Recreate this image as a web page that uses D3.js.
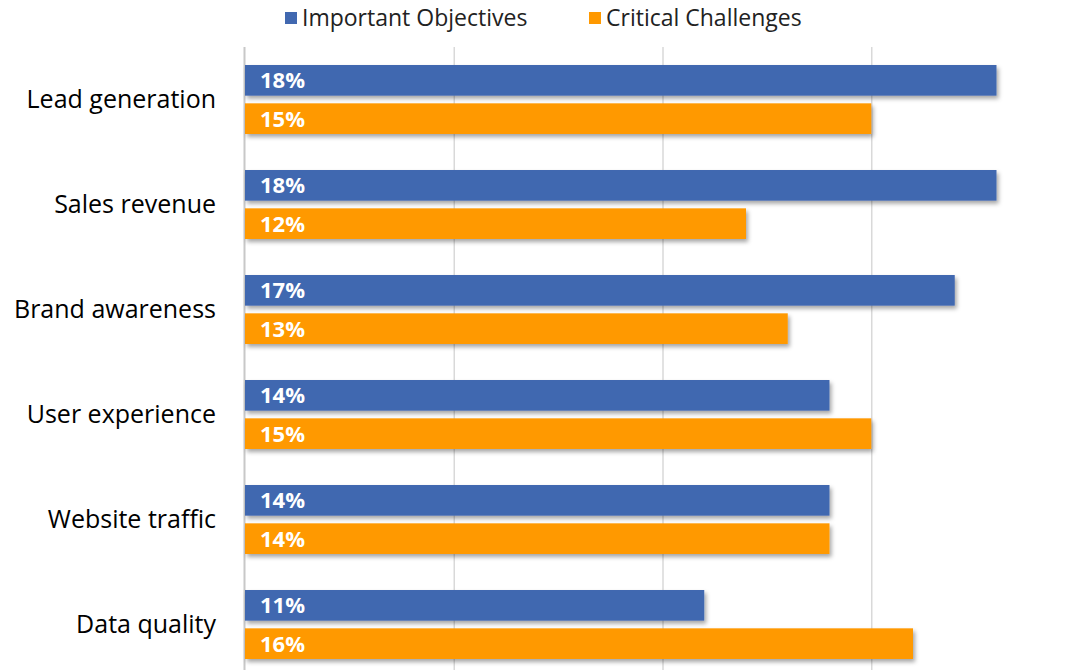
<!DOCTYPE html>
<html>
<head>
<meta charset="utf-8">
<script src="https://cdn.jsdelivr.net/npm/d3@7"></script>
<style>
  body { margin: 0; background: #fff; }
  svg { display: block; font-family: "Open Sans", Lato, sans-serif; }
</style>
</head>
<body>
<div id="chart"></div>
<script>
const categories = ["Lead generation", "Sales revenue", "Brand awareness", "User experience", "Website traffic", "Data quality"];
const seriesNames = ["Important Objectives", "Critical Challenges"];
const objectives = [18, 18, 17, 14, 14, 11];
const challenges = [15, 12, 13, 15, 14, 16];
const xTicks = [0, 5, 10, 15, 20];
const colors = ["#4168b0", "#ff9900"];

const width = 1070, height = 670;
const marginLeft = 245, marginTop = 47;
const plotBottom = 677;

const rows = categories.map((c, i) => ({ category: c, values: [objectives[i], challenges[i]] }));

const svg = d3.select("#chart").append("svg")
    .attr("width", width)
    .attr("height", height)
    .attr("viewBox", [0, 0, width, height]);

const defs = svg.append("defs");
defs.append("filter")
    .attr("id", "shadow")
    .attr("x", "-10%").attr("y", "-30%")
    .attr("width", "130%").attr("height", "180%")
  .append("feDropShadow")
    .attr("dx", 2).attr("dy", 3)
    .attr("stdDeviation", 2)
    .attr("flood-color", "#000")
    .attr("flood-opacity", 0.35);

const x = d3.scaleLinear()
    .domain([0, 20])
    .range([marginLeft, marginLeft + 20 * 41.75]);

const y = d3.scaleBand()
    .domain(categories)
    .range([marginTop, plotBottom])
    .paddingInner(0.343)
    .paddingOuter(0.1715);

const ySub = d3.scaleBand()
    .domain([0, 1])
    .range([0, y.bandwidth()])
    .paddingInner(0.2);

// gridlines
svg.append("g")
    .selectAll("line")
    .data(xTicks.slice(1))
    .join("line")
      .attr("x1", d => x(d) + 0.5)
      .attr("x2", d => x(d) + 0.5)
      .attr("y1", marginTop)
      .attr("y2", height)
      .attr("stroke", "#d9d9d9")
      .attr("stroke-width", 1.5);

// left axis line
svg.append("line")
    .attr("x1", x(0) - 0.5)
    .attr("x2", x(0) - 0.5)
    .attr("y1", marginTop)
    .attr("y2", height)
    .attr("stroke", "#c8c8c8")
    .attr("stroke-width", 2);

// category labels
svg.append("g")
    .call(d3.axisLeft(y).tickSize(0).tickPadding(0))
    .attr("transform", `translate(${marginLeft - 29},0)`)
    .call(g => g.select(".domain").remove())
    .call(g => g.selectAll("text")
        .attr("font-family", "'Open Sans', Lato, sans-serif")
        .attr("font-size", 25)
        .attr("fill", "#000"));

// bars
const group = svg.append("g")
    .selectAll("g")
    .data(rows)
    .join("g")
      .attr("transform", d => `translate(0,${y(d.category)})`);

group.selectAll("rect")
    .data(d => d.values)
    .join("rect")
      .attr("x", x(0))
      .attr("y", (d, i) => ySub(i))
      .attr("width", d => x(d) - x(0))
      .attr("height", ySub.bandwidth())
      .attr("fill", (d, i) => colors[i])
      .attr("filter", "url(#shadow)");

group.selectAll("text")
    .data(d => d.values)
    .join("text")
      .attr("x", x(0) + 15)
      .attr("y", (d, i) => ySub(i) + ySub.bandwidth() / 2)
      .attr("dy", "0.36em")
      .attr("fill", "#fff")
      .attr("font-weight", "bold")
      .attr("font-size", 22)
      .text(d => d + "%");

// legend
const legendX = [285, 589];
const legend = svg.append("g")
    .selectAll("g")
    .data(seriesNames)
    .join("g")
      .attr("transform", (d, i) => `translate(${legendX[i]},12)`);

legend.append("rect")
    .attr("width", 12)
    .attr("height", 12)
    .attr("fill", (d, i) => colors[i]);

legend.append("text")
    .attr("x", 17)
    .attr("y", 6)
    .attr("dy", "0.36em")
    .attr("font-size", 23)
    .attr("fill", "#222")
    .text(d => d);
</script>
</body>
</html>
